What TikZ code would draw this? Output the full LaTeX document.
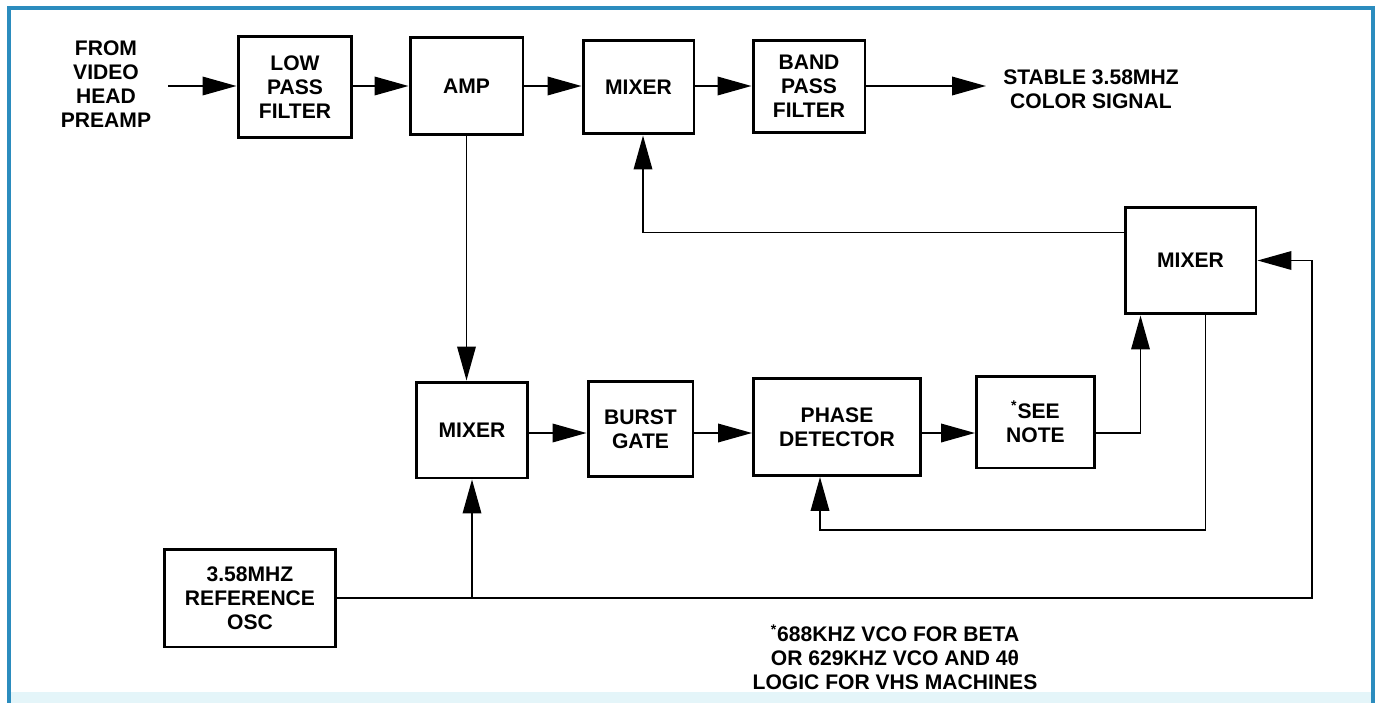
\documentclass[tikz,border=0pt]{standalone}
\usepackage{fontspec}
\setmainfont{Liberation Sans}
\usetikzlibrary{arrows.meta}
\definecolor{FrameBlue}{HTML}{2B8CBE}
\definecolor{FrameFade}{HTML}{E4F5F9}

\begin{document}
\begin{tikzpicture}[x=0.02cm,y=-0.02cm,
    every node/.style={font=\bfseries\fontsize{12}{13.6}\selectfont,align=center},
    blk/.style={draw,line width=1.7pt,inner sep=0pt},
    sig/.style={line width=1.1pt},
    >={Triangle[length=0.68cm,width=0.37cm]}]
    \useasboundingbox (0,0) rectangle (1380,703);
    \fill[FrameFade] (10,692) rectangle (1372,703);
    \draw[FrameBlue,line width=2.4pt] (9,703) -- (9,8) -- (1373,8) -- (1373,703);
    % top row
    \node (src) at (106,84) {FROM\\VIDEO\\HEAD\\PREAMP};
    \node[blk,minimum width=2.28cm,minimum height=2.02cm] (lpf) at (295,87) {LOW\\PASS\\FILTER};
    \node[blk,minimum width=2.26cm,minimum height=1.94cm] (amp) at (466.5,86) {AMP};
    \node[blk,minimum width=2.22cm,minimum height=1.88cm] (mixa) at (638.5,87) {MIXER};
    \node[blk,minimum width=2.24cm,minimum height=1.86cm] (bpf) at (809,86.5) {BAND\\PASS\\FILTER};
    \node (outlbl) at (1091,89) {STABLE 3.58MHZ\\COLOR SIGNAL};
    % right mixer
    \node[blk,minimum width=2.62cm,minimum height=2.14cm] (mixc) at (1190.5,260.5) {MIXER};
    % bottom row
    \node[blk,minimum width=2.22cm,minimum height=1.92cm] (mixb) at (472,430) {MIXER};
    \node[blk,minimum width=2.10cm,minimum height=1.90cm] (burst) at (640.5,429) {BURST\\GATE};
    \node[blk,minimum width=3.34cm,minimum height=1.94cm] (phase) at (837,427) {PHASE\\DETECTOR};
    \node[blk,minimum width=2.36cm,minimum height=1.84cm] (note) at (1035.5,422) {\textsuperscript{*}SEE\\NOTE};
    \node[blk,minimum width=3.42cm,minimum height=1.96cm] (osc) at (250,598) {3.58MHZ\\REFERENCE\\OSC};
    \node (notetxt) at (895,657) {\textsuperscript{*}688KHZ VCO FOR BETA\\OR 629KHZ VCO AND 4θ\\LOGIC FOR VHS MACHINES};
    % connectors
    \coordinate (in) at (168,86);
    \coordinate (out) at (986,86);
    \coordinate (fb) at (1000,530);
    \coordinate (rt) at (1312,598);
    \draw[sig,->] (in) -- (lpf.west |- in);
    \draw[sig,->] (lpf.east |- in) -- (amp.west |- in);
    \draw[sig,->] (amp.east |- in) -- (mixa.west |- in);
    \draw[sig,->] (mixa.east |- in) -- (bpf.west |- in);
    \draw[sig,->] (bpf.east |- in) -- (out);
    \draw[sig,->] (amp.south) -- (amp.south |- mixb.north);
    \draw[sig,->] ([yshift=0.56cm]mixc.west) -| ([xshift=0.09cm]mixa.south);
    \draw[sig,->] ([yshift=-0.06cm]mixb.east) -- ([yshift=-0.06cm]mixb.east -| burst.west);
    \draw[sig,->] ([yshift=-0.06cm]mixb.east -| burst.east) -- ([yshift=-0.06cm]mixb.east -| phase.west);
    \draw[sig,->] ([yshift=-0.06cm]mixb.east -| phase.east) -- ([yshift=-0.06cm]mixb.east -| note.west);
    \draw[sig,->] ([yshift=-0.06cm]mixb.east -| note.east) -| ([xshift=-1.0cm]mixc.south);
    \draw[sig,->] ([xshift=0.3cm]mixc.south) |- (fb) -| ([xshift=-0.34cm]phase.south);
    \draw[sig,->] (osc.east) -- (osc.east -| rt) |- (mixc.east);
    \draw[sig,->] (osc.east -| mixb.south) -- (mixb.south);
\end{tikzpicture}
\end{document}
